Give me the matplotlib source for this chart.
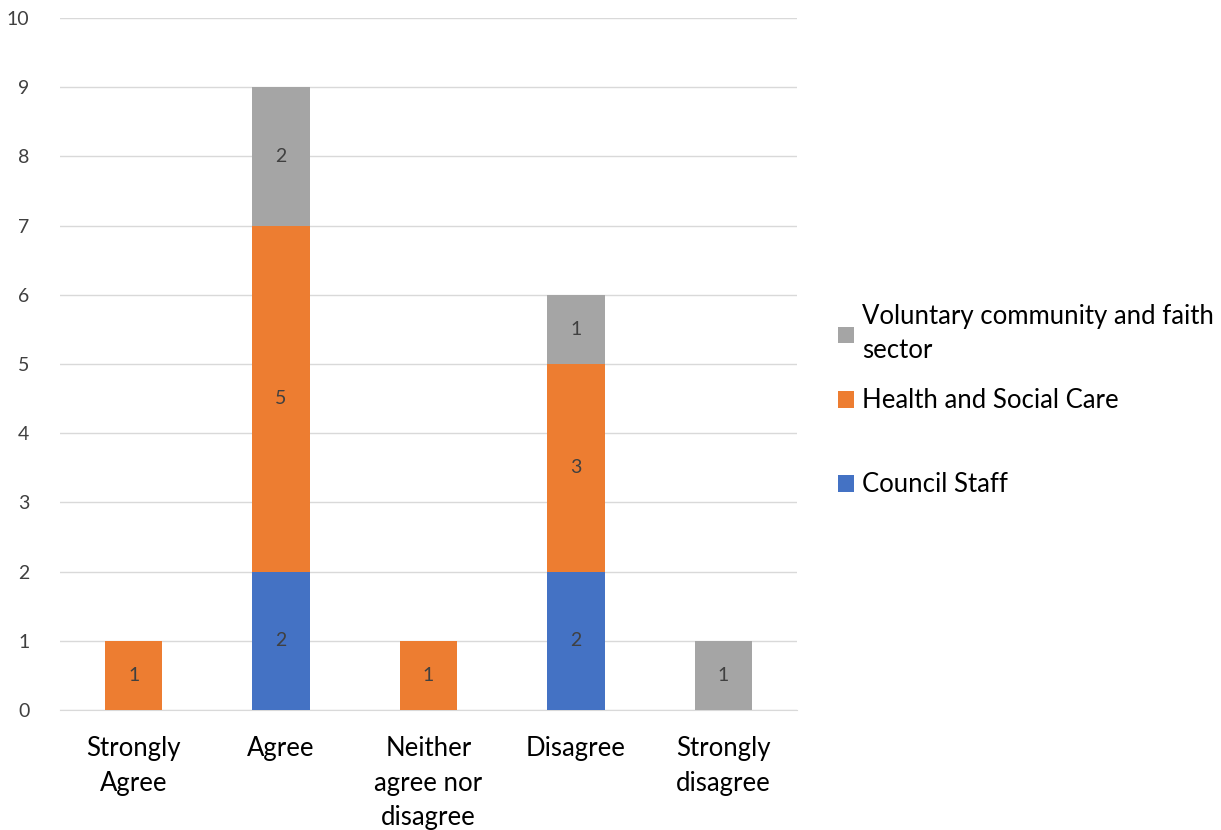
import matplotlib
matplotlib.use("Agg")
import matplotlib.pyplot as plt
import numpy as np

plt.rcParams['font.family'] = ['Lato', 'DejaVu Sans']

categories = ["Strongly\nAgree", "Agree", "Neither\nagree nor\ndisagree", "Disagree", "Strongly\ndisagree"]
council_staff = [0, 2, 0, 2, 0]
health_social = [1, 5, 1, 3, 0]
voluntary = [0, 2, 0, 1, 1]
series_names = ["Council Staff", "Health and Social Care", "Voluntary community and faith\nsector"]
y_ticks = list(range(0, 11))

colors = ["#4472C4", "#ED7D31", "#A5A5A5"]

fig = plt.figure(figsize=(12.21, 8.30), dpi=100)
ax = fig.add_axes([0.0491, 0.1446, 0.6036, 0.8337])

x = np.arange(len(categories))
width = 0.39
bottom = np.zeros(len(categories))
handles = []
for vals, name, col in zip([council_staff, health_social, voluntary], series_names, colors):
    vals = np.array(vals, dtype=float)
    bars = ax.bar(x, vals, width, bottom=bottom, color=col, label=name, zorder=3)
    handles.append(bars)
    for xi, v, b in zip(x, vals, bottom):
        if v > 0:
            ax.text(xi, b + v / 2, f"{int(v)}", ha="center", va="center",
                    fontsize=14, color="#404040", zorder=4)
    bottom += vals

ax.set_xlim(-0.5, len(categories) - 0.5)
ax.set_ylim(0, 10)
ax.set_yticks(y_ticks)
ax.set_xticks(x)
ax.set_xticklabels(categories, fontsize=18.5, color="#000000", linespacing=1.46)
ax.tick_params(axis="y", labelsize=14, labelcolor="#404040", length=0, pad=22)
ax.tick_params(axis="x", length=0, pad=19)
ax.grid(axis="y", color="#D9D9D9", linewidth=1, zorder=0)
for s in ["top", "right", "left"]:
    ax.spines[s].set_visible(False)
ax.spines["bottom"].set_color("#D9D9D9")

# One legend box per series so each entry sits at its own height
legend_y = [0.4157, 0.5169, 0.5976]
for h, name, y in zip(handles, series_names, legend_y):
    leg = fig.legend([h], [name], loc="center left",
                     bbox_to_anchor=(0.686, y), frameon=False, fontsize=18.5,
                     handlelength=0.62, handleheight=0.62, handletextpad=0.33,
                     borderpad=0, borderaxespad=0)
    for t in leg.get_texts():
        t.set_color("#000000")
        t.set_linespacing(1.45)

fig.savefig("out.png", dpi=100)
